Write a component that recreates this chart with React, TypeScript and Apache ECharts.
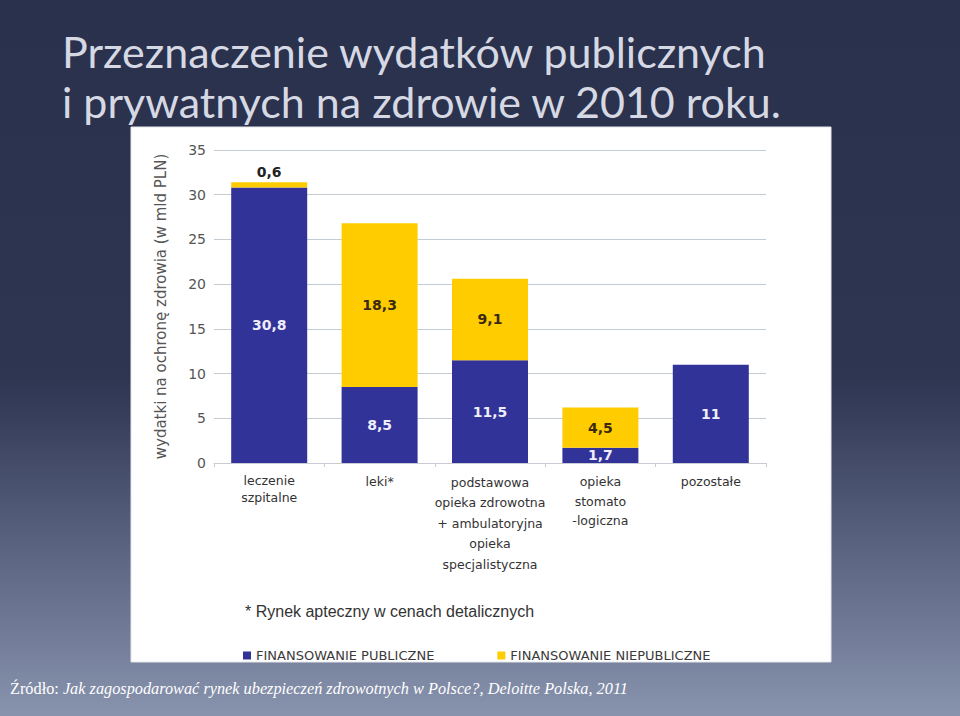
import React, { useEffect, useRef } from "react";
import * as echarts from "echarts";

const titleLines = [
  "Przeznaczenie wydatków publicznych",
  "i prywatnych na zdrowie w 2010 roku.",
];
const categories = [
  "leczenie\nszpitalne",
  "leki*",
  "podstawowa\nopieka zdrowotna\n+ ambulatoryjna\nopieka\nspecjalistyczna",
  "opieka\nstomato\n-logiczna",
  "pozostałe",
];
const categoryLineHeights = [17, 19, 20.5, 19.5, 19];
const publicValues = [30.8, 8.5, 11.5, 1.7, 11];
const privateValues: (number | null)[] = [0.6, 18.3, 9.1, 4.5, null];
const seriesNames = ["FINANSOWANIE PUBLICZNE", "FINANSOWANIE NIEPUBLICZNE"];
const yAxisName = "wydatki na ochronę zdrowia (w mld PLN)";
const yMin = 0;
const yMax = 35;
const yInterval = 5;
const footnote = "* Rynek apteczny w cenach detalicznych";
const sourceLabel = "Źródło:";
const sourceText =
  "Jak zagospodarować rynek ubezpieczeń zdrowotnych w Polsce?, Deloitte Polska, 2011";

const BLUE = "#323399";
const YELLOW = "#ffcc00";

const fmt = (p: any) =>
  p.value == null ? "" : String(p.value).replace(".", ",");

export default function App() {
  const ref = useRef<HTMLDivElement>(null);

  useEffect(() => {
    if (!ref.current) return;
    const chart = echarts.init(ref.current, undefined, { renderer: "svg" });
    chart.setOption({
      animation: false,
      title: {
        text: titleLines.join("\n"),
        left: 57,
        top: 21,
        textStyle: {
          fontFamily: "Lato",
          fontSize: 43,
          lineHeight: 50,
          fontWeight: "normal",
          color: "#d6d9e3",
        },
      },
      graphic: [
        {
          type: "rect",
          z: -10,
          silent: true,
          shape: { x: 0, y: 0, width: 960, height: 716 },
          style: {
            fill: new echarts.graphic.LinearGradient(0, 0, 0, 1, [
              { offset: 0, color: "#29314c" },
              { offset: 0.52, color: "#2d3551" },
              { offset: 0.58, color: "#363e5b" },
              { offset: 1, color: "#8893ae" },
            ]),
          },
        },
        {
          type: "rect",
          z: -9,
          silent: true,
          shape: { x: 131, y: 127, width: 700, height: 535 },
          style: { fill: "#ffffff", stroke: "#e4e6ea", lineWidth: 1 },
        },
        {
          type: "text",
          z: 5,
          left: 245,
          top: 603,
          style: {
            text: footnote,
            fontFamily: "Liberation Sans",
            fontSize: 16,
            fill: "#333333",
          },
        },
        {
          type: "text",
          z: 5,
          left: 10,
          top: 680,
          style: {
            text: `{a|${sourceLabel}} {b|${sourceText}}`,
            rich: {
              a: {
                fontFamily: "Liberation Serif",
                fontSize: 16.3,
                fill: "#ffffff",
                color: "#ffffff",
              },
              b: {
                fontFamily: "Liberation Serif",
                fontStyle: "italic",
                fontSize: 16.3,
                fill: "#ffffff",
                color: "#ffffff",
              },
            },
            fill: "#ffffff",
            fontFamily: "Liberation Serif",
            fontSize: 16.3,
          },
        },
      ],
      legend: {
        left: 238,
        top: 644,
        itemWidth: 8,
        itemHeight: 8,
        itemGap: 63,
        icon: "rect",
        data: seriesNames,
        textStyle: {
          fontFamily: "DejaVu Sans",
          fontSize: 13,
          color: "#3a3a3a",
        },
      },
      grid: { left: 214, right: 194, top: 150, bottom: 253 },
      xAxis: {
        type: "category",
        data: categories.map((c, i) => ({
          value: c,
          textStyle: { lineHeight: categoryLineHeights[i] },
        })),
        axisLine: { lineStyle: { color: "#c8ccd2" } },
        axisTick: { show: true, length: 4, lineStyle: { color: "#c8ccd2" } },
        axisLabel: {
          interval: 0,
          margin: 9,
          fontFamily: "DejaVu Sans",
          fontSize: 12.5,
          color: "#333333",
          align: "center",
        },
      },
      yAxis: {
        type: "value",
        min: yMin,
        max: yMax,
        interval: yInterval,
        name: yAxisName,
        nameLocation: "middle",
        nameRotate: 90,
        nameGap: 46,
        nameTextStyle: {
          fontFamily: "DejaVu Sans",
          fontSize: 15,
          color: "#555555",
        },
        axisLine: { show: false },
        axisTick: { show: false },
        axisLabel: {
          margin: 8,
          fontFamily: "DejaVu Sans",
          fontSize: 14,
          color: "#555555",
        },
        splitLine: { lineStyle: { color: "#c3cbd3", width: 1 } },
      },
      series: [
        {
          name: seriesNames[0],
          type: "bar",
          stack: "total",
          barWidth: 76,
          itemStyle: { color: BLUE },
          label: {
            show: true,
            position: "inside",
            formatter: fmt,
            fontFamily: "DejaVu Sans",
            fontWeight: "bold",
            fontSize: 14,
            color: "#eeeefa",
          },
          data: publicValues,
        },
        {
          name: seriesNames[1],
          type: "bar",
          stack: "total",
          barWidth: 76,
          itemStyle: { color: YELLOW },
          label: {
            show: true,
            position: "inside",
            formatter: fmt,
            fontFamily: "DejaVu Sans",
            fontWeight: "bold",
            fontSize: 14,
            color: "#3a2a10",
          },
          data: privateValues.map((v) =>
            v != null && v < 1
              ? { value: v, label: { position: "top", distance: 3, color: "#222222" } }
              : v
          ),
        },
      ],
    });
    return () => chart.dispose();
  }, []);

  return (
    <div
      ref={ref}
      style={{ position: "absolute", left: 0, top: 0, width: 960, height: 716 }}
    />
  );
}
